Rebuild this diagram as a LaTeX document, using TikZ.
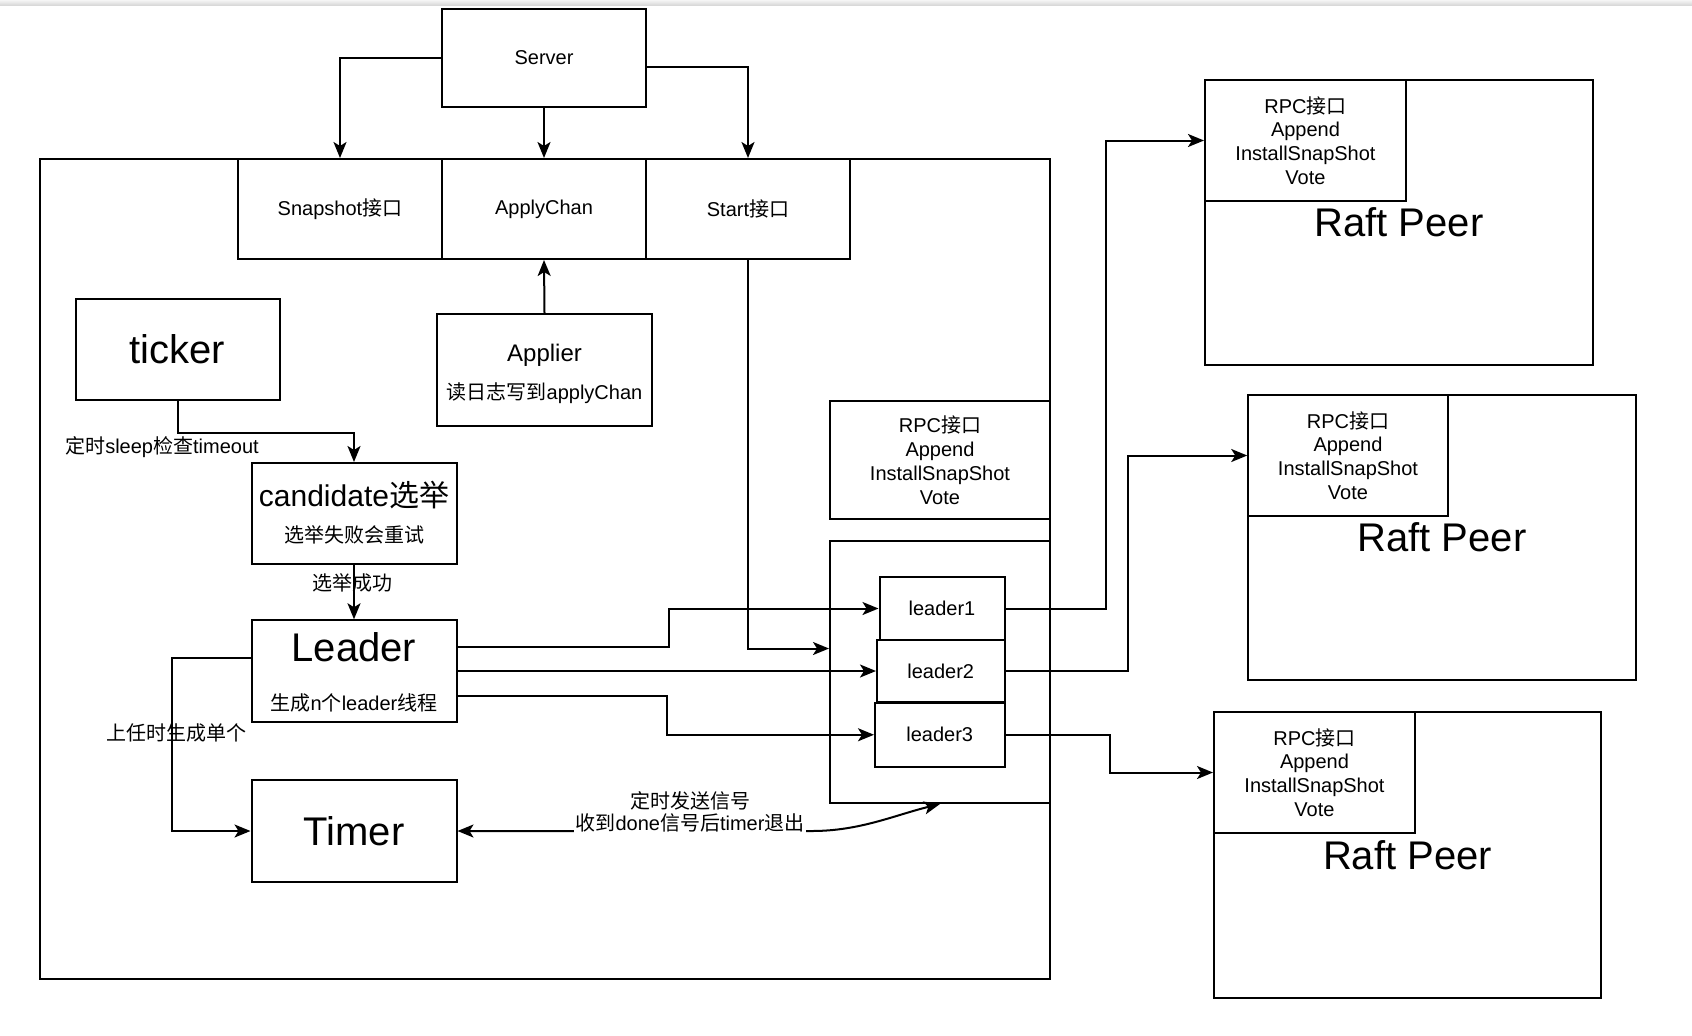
\documentclass[tikz,border=0pt]{standalone}
\usepackage{fontspec}
\setmainfont{Liberation Sans}
\newfontfamily\cjk{Noto Sans CJK SC}
\newcommand\zh[1]{{\cjk #1}}
\usetikzlibrary{arrows.meta}

\begin{document}
\begin{tikzpicture}[x=0.5pt,y=-0.5pt,>={Stealth[length=8pt,width=6.5pt,inset=2pt]},every node/.style={font=\fontsize{10}{11.9}\selectfont,align=center},box/.style={draw,line width=1pt,inner sep=0pt},conn/.style={->,line width=1pt},big/.style={font=\fontsize{20}{24}\selectfont}]
\useasboundingbox (0,0) rectangle (1692,1035);
\shade[top color=gray!8,bottom color=gray!30] (0,0) rectangle (1692,5);
\node[box,minimum width=505pt,minimum height=410pt] (main) at (545,569) {};
\node[box,minimum width=102pt,minimum height=49pt] (server) at (544,58) {Server};
\node[box,minimum width=101.75pt,minimum height=50pt] (snap) at (340,209) {Snapshot\zh{接口}};
\node[box,minimum width=102pt,minimum height=50pt] (apply) at (544,209) {ApplyChan};
\node[box,minimum width=102pt,minimum height=50pt] (start) at (748,209) {Start\zh{接口}};
\node[box,big,minimum width=102pt,minimum height=50.5pt] (ticker) at (177.5,349.5) {ticker};
\node[box,minimum width=107.5pt,minimum height=56pt] (applier) at (544.5,370) {};
\node[font=\fontsize{12}{14}\selectfont] (applierT) at (544.5,355) {Applier};\node (applierS) at (544.5,393) {\zh{读日志写到}applyChan};
\node[box,minimum width=102.5pt,minimum height=50.5pt] (cand) at (354,513.5) {};
\node[font=\fontsize{15}{18}\selectfont] (candT) at (354,495) {candidate\zh{选举}};\node (candS) at (354,535) {\zh{选举失败会重试}};
\node[box,minimum width=102.5pt,minimum height=50.75pt] (lead) at (354,671) {};
\node[big] (leadT) at (354,647) {Leader};\node (leadS) at (354,702.5) {\zh{生成}n\zh{个}leader\zh{线程}};
\node[box,big,minimum width=102.5pt,minimum height=51pt] (timer) at (354,831) {Timer};
\node[box,minimum width=110pt,minimum height=59pt] (rpc) at (940,460) {RPC\zh{接口}\\Append\\InstallSnapShot\\Vote};
\node[box,minimum width=110pt,minimum height=131pt] (grp) at (940,672) {};
\node[box,minimum width=62.5pt,minimum height=31.5pt] (l1) at (942,608.5) {leader1};
\node[box,minimum width=63.75pt,minimum height=31.25pt] (l2) at (940.75,671) {leader2};
\node[box,minimum width=64.75pt,minimum height=32.25pt] (l3) at (939.75,734.75) {leader3};
\node[box,big,minimum width=194pt,minimum height=142.5pt] (peer1) at (1399,222.5) {Raft Peer};
\node[box,minimum width=100.5pt,minimum height=60.5pt] (rpc1) at (1305.5,140.5) {RPC\zh{接口}\\Append\\InstallSnapShot\\Vote};
\node[box,big,minimum width=193.75pt,minimum height=142.5pt] (peer2) at (1442,537.5) {Raft Peer};
\node[box,minimum width=99.75pt,minimum height=60.5pt] (rpc2) at (1348,455.5) {RPC\zh{接口}\\Append\\InstallSnapShot\\Vote};
\node[box,big,minimum width=193.5pt,minimum height=143pt] (peer3) at (1407.5,855) {Raft Peer};
\node[box,minimum width=100.5pt,minimum height=60.5pt] (rpc3) at (1314.5,772.5) {RPC\zh{接口}\\Append\\InstallSnapShot\\Vote};
\draw[conn] (server.west) -| (snap.north);\draw[conn] (server.south) -- (apply.north);\draw[conn] ([yshift=-4.5pt]server.east) -| (start.north);
\draw[conn] (applier.north) -- (apply.south);
\draw[conn] (ticker.south) -- ++(0,32) -| (cand.north);\draw[conn] (cand.south) -- (lead.north);
\draw[conn] ([yshift=6.5pt]lead.west) -- ++(-79,0) |- (timer.west);
\draw[conn] ([yshift=12.25pt]lead.east) -- ++(211.5,0) |- (l1.west);\draw[conn] (lead.east) -- (l2.west);\draw[conn] ([yshift=-12.5pt]lead.east) -- ++(209.5,0) |- (l3.west);
\draw[conn] (start.south) |- ([yshift=11.75pt]grp.west);
\draw[conn] (l1.east) -- ++(100.5,0) |- (rpc1.west);\draw[conn] (l2.east) -- ++(122,0) |- (rpc2.west);\draw[conn] (l3.east) -- ++(104.5,0) |- (rpc3.west);
\draw[conn,<->] (timer.east) -- (812,831) .. controls (860,831) and (895,815) .. (grp.south);
\node (sleepL) at (162,447) {\zh{定时}sleep\zh{检查}timeout};
\node (winL) at (352,583) {\zh{选举成功}};
\node (oneL) at (176,733) {\zh{上任时生成单个}};
\node[fill=white,inner sep=1pt,font=\fontsize{10}{11.3}\selectfont] (sigL) at (690,812) {\zh{定时发送信号}\\\zh{收到}done\zh{信号后}timer\zh{退出}};
\end{tikzpicture}
\end{document}
